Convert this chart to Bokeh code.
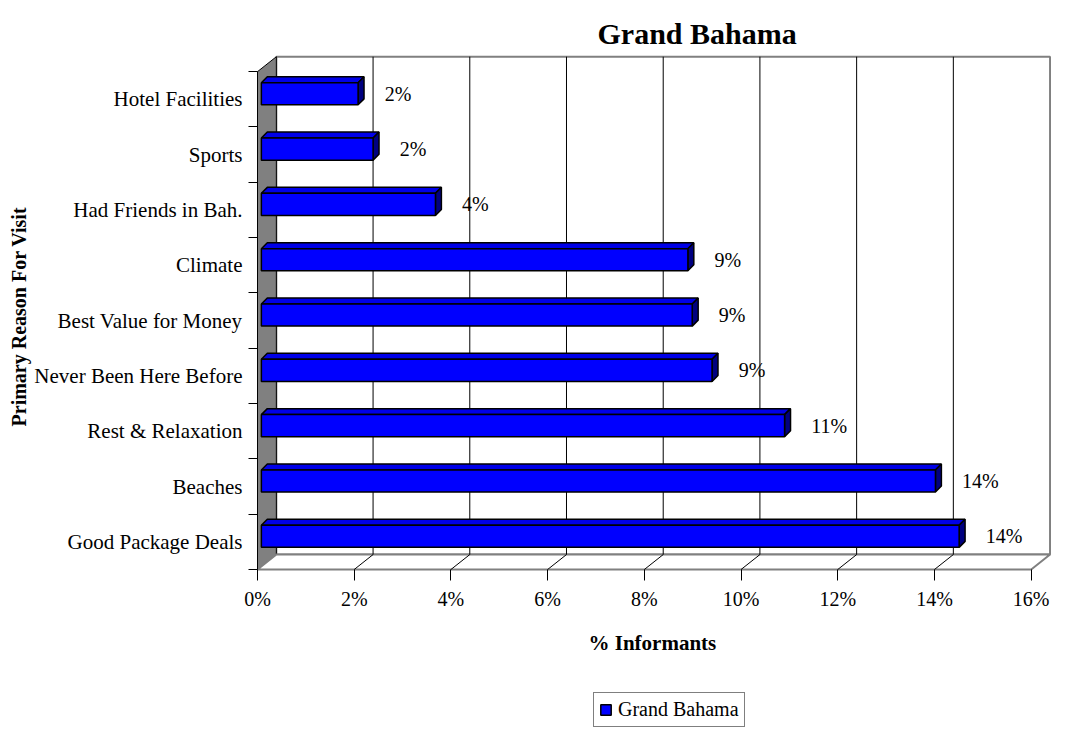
import math
from bokeh.plotting import figure
from bokeh.models import Range1d, LinearAxis, FixedTicker, Legend, LegendItem, Label
from bokeh.embed import file_html
from bokeh.resources import INLINE
from bokeh.core.properties import value

# ---- data ----
categories = ["Good Package Deals", "Beaches", "Rest & Relaxation", "Never Been Here Before",
              "Best Value for Money", "Climate", "Had Friends in Bah.", "Sports", "Hotel Facilities"]
percent = [14.43, 13.94, 10.82, 9.32, 8.91, 8.82, 3.60, 2.31, 2.00]
x_ticks = [0, 2, 4, 6, 8, 10, 12, 14, 16]
x_tick_labels = ["0%", "2%", "4%", "6%", "8%", "10%", "12%", "14%", "16%"]
series_name = "Grand Bahama"
title_text = "Grand Bahama"
x_title = "% Informants"
y_title = "Primary Reason For Visit"

# ---- style / geometry ----
FONT = "Liberation Serif"
W, H = 1051, 728
TOP, RIGHT = 54, 0
X0_PX, Y0_PX = 257, 159          # where the value axis origin sits inside the frame
DX, DY = 0.39, 0.27              # depth of the 3-D box (data units)
BX, SY, HH = 0.08, 0.10, 0.20    # bar depth position and half height
BDX, BDY = 0.123, 0.108          # bar's own depth
n = len(categories)
xmax = x_ticks[-1]

frame_w, frame_h = W - RIGHT, H - TOP
x_end = xmax + DX + 0.03
x_start = -X0_PX * x_end / (frame_w - X0_PX)
y_end = n + DY + 0.04
y_start = -Y0_PX * y_end / (frame_h - Y0_PX)

p = figure(width=W, height=H, output_backend="svg", toolbar_location=None,
           x_range=Range1d(x_start, x_end), y_range=Range1d(y_start, y_end),
           x_axis_type=None, y_axis_type=None,
           min_border_left=0, min_border_right=RIGHT, min_border_top=TOP, min_border_bottom=0)
p.outline_line_color = None
p.background_fill_color = "white"
p.border_fill_color = "white"

# walls and floor
p.quad(left=[DX], right=[xmax + DX], bottom=[DY], top=[n + DY],
       fill_color="white", line_color="#808080", line_width=2)
p.patch([0, DX, DX, 0], [0, DY, n + DY, n], fill_color="#808080", line_color="black", line_width=1)
p.patch([0, xmax, xmax + DX, DX], [0, 0, DY, DY], fill_color="white", line_color="#808080", line_width=2)

inner = x_ticks[1:-1]
p.segment(x0=[t + DX for t in inner], y0=[DY] * len(inner), x1=[t + DX for t in inner],
          y1=[n + DY] * len(inner), line_color="black", line_width=1)
p.segment(x0=inner, y0=[0] * len(inner), x1=[t + DX for t in inner], y1=[DY] * len(inner),
          line_color="black", line_width=1)
# front left edge (axis line)
p.segment(x0=[0], y0=[0], x1=[0], y1=[n], line_color="black", line_width=1)

# bars
L = [BX] * n
R = [BX + v for v in percent]
B = [i + 0.5 - HH + SY for i in range(n)]
T = [i + 0.5 + HH + SY for i in range(n)]
top_xs = [[l, r, r + BDX, l + BDX] for l, r in zip(L, R)]
top_ys = [[t, t, t + BDY, t + BDY] for t in T]
side_xs = [[r, r + BDX, r + BDX, r] for r in R]
side_ys = [[b, b + BDY, t + BDY, t] for b, t in zip(B, T)]
p.patches(top_xs, top_ys, fill_color="#0000E8", line_color="black", line_width=1.5)
p.patches(side_xs, side_ys, fill_color="#000080", line_color="black", line_width=1.5)
front = p.quad(left=L, right=R, bottom=B, top=T, fill_color="#0000FF", line_color="black", line_width=1.5)

labels = [f"{round(v)}%" for v in percent]
p.text(x=[r + 0.55 for r in R], y=[i + 0.5 + SY for i in range(n)], text=labels,
       text_font=value(FONT), text_font_size="20px", text_align="left", text_baseline="middle",
       text_color="black")

# axes (fixed at the data origin, inside the frame)
xaxis = LinearAxis(ticker=FixedTicker(ticks=x_ticks),
                   major_label_overrides={t: s for t, s in zip(x_ticks, x_tick_labels)},
                   fixed_location=0, axis_line_color=None,
                   major_tick_in=0, major_tick_out=11, minor_tick_in=0, minor_tick_out=0,
                   major_tick_line_color="black",
                   major_label_standoff=7,
                   major_label_text_font=FONT, major_label_text_font_size="20px",
                   major_label_text_color="black")
p.add_layout(xaxis, "below")

centers = [i + 0.5 for i in range(n)]
yaxis = LinearAxis(ticker=FixedTicker(ticks=centers, minor_ticks=list(range(n + 1))),
                   major_label_overrides={c: s for c, s in zip(centers, categories)},
                   fixed_location=0, axis_line_color=None,
                   major_tick_in=0, major_tick_out=0, minor_tick_in=0, minor_tick_out=9,
                   minor_tick_line_color="black",
                   major_label_standoff=6,
                   major_label_text_font=FONT, major_label_text_font_size="21px",
                   major_label_text_color="black")
p.add_layout(yaxis, "left")

# axis titles
p.add_layout(Label(x=xmax / 2, y=0, x_offset=8, y_offset=-73, text=x_title,
                   text_font=FONT, text_font_size="21px", text_font_style="bold",
                   text_align="center", text_baseline="middle", text_color="black"))
p.add_layout(Label(x=0, y=n / 2, x_offset=-239, y_offset=4, text=y_title, angle=math.pi / 2,
                   text_font=FONT, text_font_size="20px", text_font_style="bold",
                   text_align="center", text_baseline="middle", text_color="black"))

# title
p.title.text = title_text
p.title.text_font = FONT
p.title.text_font_size = "30px"
p.title.text_font_style = "bold"
p.title.text_color = "black"
p.title.align = "left"
p.title.offset = 597

# legend
legend = Legend(items=[LegendItem(label=series_name, renderers=[front])], location=(593, 1),
                border_line_color="black", border_line_width=1, background_fill_color="white",
                label_text_font=FONT, label_text_font_size="20px", label_text_color="black",
                glyph_width=13, glyph_height=13,
                padding=5, spacing=0, label_standoff=6, label_height=20, margin=0)
p.add_layout(legend)

open("out.html", "w").write(file_html(p, INLINE))
